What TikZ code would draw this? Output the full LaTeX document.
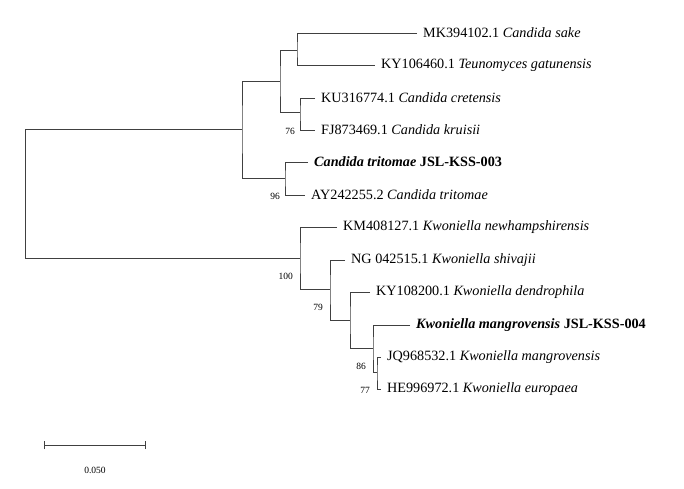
\documentclass[tikz,border=0pt]{standalone}
\usepackage{fontspec}
\setmainfont{Liberation Serif}
\begin{document}
\begin{tikzpicture}[x=1pt,y=-1pt,
  br/.style={draw=black!75,line width=0.8pt},
  leaf/.style={anchor=west,inner sep=0pt,font=\fontsize{14.2}{14}\selectfont},
  boot/.style={anchor=east,inner sep=1pt,font=\fontsize{9.5}{9.5}\selectfont}]
\useasboundingbox (0,0) rectangle (684,488);
% internal nodes
\coordinate (r) at (25,129);
\coordinate (c) at (242,129);
\coordinate (k) at (300,258);
\coordinate (u) at (280,81);
\coordinate (t) at (285,178);
\coordinate (m) at (297,50);
\coordinate (f) at (300,112);
\coordinate (k2) at (330,289);
\coordinate (k3) at (350,320);
\coordinate (k4) at (373,348);
\coordinate (k5) at (377,372);
% leaf tips
\coordinate (e1) at (417,33);
\coordinate (e2) at (375,65);
\coordinate (e3) at (315,98);
\coordinate (e4) at (315,130);
\coordinate (e5) at (308,162);
\coordinate (e6) at (305,195);
\coordinate (e7) at (337,227);
\coordinate (e8) at (345,260);
\coordinate (e9) at (370,292);
\coordinate (e10) at (410,325);
\coordinate (e11) at (381,357);
\coordinate (e12) at (381,389);
% leaves
\node[leaf] (l1) at ([xshift=6]e1) {MK394102.1 \textit{Candida sake}};
\node[leaf] (l2) at ([xshift=6]e2) {KY106460.1 \textit{Teunomyces gatunensis}};
\node[leaf] (l3) at ([xshift=6]e3) {KU316774.1 \textit{Candida cretensis}};
\node[leaf] (l4) at ([xshift=6]e4) {FJ873469.1 \textit{Candida kruisii}};
\node[leaf] (l5) at ([xshift=6]e5) {\textbf{\textit{Candida tritomae} JSL-KSS-003}};
\node[leaf] (l6) at ([xshift=6]e6) {AY242255.2 \textit{Candida tritomae}};
\node[leaf] (l7) at ([xshift=6]e7) {KM408127.1 \textit{Kwoniella newhampshirensis}};
\node[leaf] (l8) at ([xshift=6]e8) {NG 042515.1 \textit{Kwoniella shivajii}};
\node[leaf] (l9) at ([xshift=6]e9) {KY108200.1 \textit{Kwoniella dendrophila}};
\node[leaf] (l10) at ([xshift=6]e10) {\textbf{\textit{Kwoniella mangrovensis} JSL-KSS-004}};
\node[leaf] (l11) at ([xshift=6]e11) {JQ968532.1 \textit{Kwoniella mangrovensis}};
\node[leaf] (l12) at ([xshift=6]e12) {HE996972.1 \textit{Kwoniella europaea}};
% branches
\draw[br] (c) -- (r) |- (k);
\draw[br] (u) -| (c) |- (t);
\draw[br] (m) -| (u) |- (f);
\draw[br] (e1) -| (m) |- (e2);
\draw[br] (e3) -| (f) |- (e4);
\draw[br] (e5) -| (t) |- (e6);
\draw[br] (e7) -| (k) |- (k2);
\draw[br] (e8) -| (k2) |- (k3);
\draw[br] (e9) -| (k3) |- (k4);
\draw[br] (e10) -| (k4) |- (k5);
\draw[br] (e11) -| (k5) |- (e12);
% bootstrap
\node[boot] (b1) at (296,131) {76};
\node[boot] (b2) at (281,196) {96};
\node[boot] (b3) at (294,276) {100};
\node[boot] (b4) at (324,307) {79};
\node[boot] (b5) at (367,366) {86};
\node[boot] (b6) at (371,390) {77};
% scale bar
\coordinate (s1) at (44,445);
\coordinate (s2) at (145,445);
\draw[br] (s1) -- (s2);
\draw[br] ([yshift=-4]s1) -- ([yshift=4]s1);
\draw[br] ([yshift=-4]s2) -- ([yshift=4]s2);
\node[font=\fontsize{9.5}{9.5}\selectfont] (sl) at (95,470) {0.050};
\end{tikzpicture}
\end{document}
